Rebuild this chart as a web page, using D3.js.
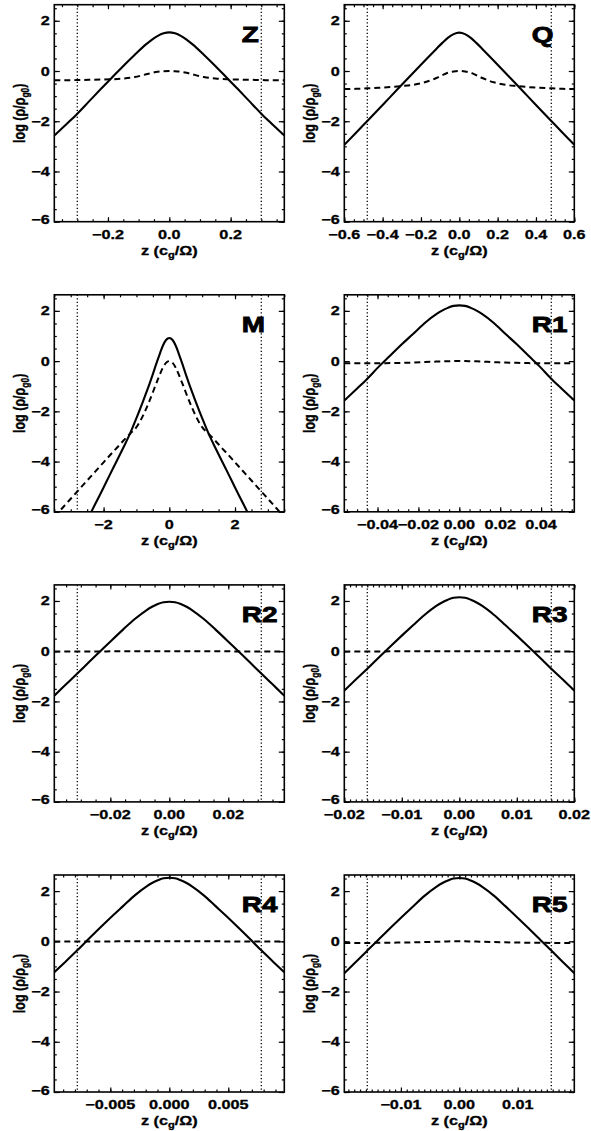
<!DOCTYPE html>
<html>
<head>
<meta charset="utf-8">
<script src="https://cdn.jsdelivr.net/npm/d3@7"></script>
<style>
  body { margin: 0; background: #fff; }
  svg { display: block; }
  text { font-family: "Liberation Sans", Arial, Helvetica, sans-serif; font-weight: bold; fill: #000; }
</style>
</head>
<body>
<svg id="fig" width="591" height="1131"></svg>
<script>
// ---- data -------------------------------------------------------------
const panelNames = ["Z", "Q", "M", "R1", "R2", "R3", "R4", "R5"];

// half-width of each z window and the position of the dotted markers (c_g/Omega)
const zHalf = [0.375, 0.6, 3.5, 0.05625, 0.039, 0.02, 0.00975, 0.0197];
const zMark = [0.30, 0.48, 2.8, 0.045, 0.0312, 0.016, 0.0078, 0.01576];

// labelled x ticks and minor tick spacing per panel
const xTicksZ  = [-0.2, 0, 0.2],               xLabelsZ  = ["\u22120.2", "0.0", "0.2"];
const xTicksQ  = [-0.6, -0.4, -0.2, 0, 0.2, 0.4, 0.6],
      xLabelsQ = ["\u22120.6", "\u22120.4", "\u22120.2", "0.0", "0.2", "0.4", "0.6"];
const xTicksM  = [-2, 0, 2],                   xLabelsM  = ["\u22122", "0", "2"];
const xTicksR1 = [-0.04, -0.02, 0, 0.02, 0.04],
      xLabelsR1 = ["\u22120.04", "\u22120.02", "0.00", "0.02", "0.04"];
const xTicksR2 = [-0.02, 0, 0.02],             xLabelsR2 = ["\u22120.02", "0.00", "0.02"];
const xTicksR3 = [-0.02, -0.01, 0, 0.01, 0.02],
      xLabelsR3 = ["\u22120.02", "\u22120.01", "0.00", "0.01", "0.02"];
const xTicksR4 = [-0.005, 0, 0.005],           xLabelsR4 = ["\u22120.005", "0.000", "0.005"];
const xTicksR5 = [-0.01, 0, 0.01],             xLabelsR5 = ["\u22120.01", "0.00", "0.01"];
const xMinor = [0.05, 0.05, 0.5, 0.005, 0.005, 0.001, 0.001, 0.001];

const yTicks = [-6, -4, -2, 0, 2];
const yLabels = ["\u22126", "\u22124", "\u22122", "0", "2"];
const yDomain = [-6, 2.64];

// sample positions as a fraction of the half-width (all panels except M)
const frac = [-1, -0.9, -0.8, -0.7, -0.6, -0.5, -0.4, -0.3, -0.2, -0.15, -0.1, -0.05, 0,
              0.05, 0.1, 0.15, 0.2, 0.3, 0.4, 0.5, 0.6, 0.7, 0.8, 0.9, 1];

// log density profiles: solid and dashed curves
const solidZ  = [-2.57, -2.14, -1.70, -1.22, -0.74, -0.27, 0.20, 0.65, 1.07, 1.25, 1.40, 1.50, 1.54,
                 1.50, 1.40, 1.25, 1.07, 0.65, 0.20, -0.27, -0.74, -1.22, -1.70, -2.14, -2.57];
const dashedZ = [-0.37, -0.37, -0.36, -0.35, -0.34, -0.33, -0.30, -0.24, -0.13, -0.07, -0.03, -0.01, 0,
                 -0.01, -0.03, -0.07, -0.13, -0.24, -0.30, -0.33, -0.34, -0.35, -0.36, -0.37, -0.37];

const solidQ  = [-2.94, -2.47, -1.99, -1.51, -1.03, -0.55, -0.07, 0.41, 0.88, 1.11, 1.32, 1.47, 1.53,
                 1.47, 1.32, 1.11, 0.88, 0.41, -0.07, -0.55, -1.03, -1.51, -1.99, -2.47, -2.94];
const dashedQ = [-0.72, -0.71, -0.69, -0.67, -0.64, -0.60, -0.55, -0.45, -0.28, -0.17, -0.07, -0.02, 0,
                 -0.02, -0.07, -0.17, -0.28, -0.45, -0.55, -0.60, -0.64, -0.67, -0.69, -0.71, -0.72];

// panel M is sampled directly in z
const zGridM = [-3.5, -3.4, -3.2, -3.0, -2.8, -2.6, -2.4, -2.2, -2.0, -1.8, -1.6, -1.4, -1.2, -1.0, -0.8,
                -0.6, -0.5, -0.4, -0.3, -0.2, -0.1, 0, 0.1, 0.2, 0.3, 0.4, 0.5, 0.6, 0.8, 1.0, 1.2,
                1.4, 1.6, 1.8, 2.0, 2.2, 2.4, 2.6, 2.8, 3.0, 3.2, 3.4, 3.5];
const solidM  = [-8.85, -8.6, -8.1, -7.6, -7.10, -6.60, -6.07, -5.55, -5.03, -4.50, -3.98, -3.45, -2.90,
                 -2.27, -1.60, -0.90, -0.52, -0.12, 0.25, 0.60, 0.84, 0.92, 0.84, 0.60, 0.25, -0.12,
                 -0.52, -0.90, -1.60, -2.27, -2.90, -3.45, -3.98, -4.50, -5.03, -5.55, -6.07, -6.60,
                 -7.10, -7.6, -8.1, -8.6, -8.85];
const dashedM = [-6.2, -6.06, -5.77, -5.48, -5.19, -4.90, -4.61, -4.32, -4.03, -3.74, -3.46, -3.17, -2.90,
                 -2.63, -2.17, -1.57, -1.24, -0.90, -0.57, -0.27, -0.07, 0, -0.07, -0.27, -0.57, -0.90,
                 -1.24, -1.57, -2.17, -2.63, -2.90, -3.17, -3.46, -3.74, -4.03, -4.32, -4.61, -4.90,
                 -5.19, -5.48, -5.77, -6.06, -6.2];

const solidR1  = [-1.57, -1.14, -0.70, -0.22, 0.22, 0.67, 1.09, 1.52, 1.87, 2.01, 2.12, 2.20, 2.22,
                  2.20, 2.12, 2.01, 1.87, 1.52, 1.09, 0.67, 0.22, -0.22, -0.70, -1.14, -1.57];
const dashedR1 = [-0.09, -0.09, -0.09, -0.085, -0.08, -0.07, -0.06, -0.04, -0.02, -0.01, -0.005, 0, 0,
                  0, -0.005, -0.01, -0.02, -0.04, -0.06, -0.07, -0.08, -0.085, -0.09, -0.09, -0.09];

const solidR2  = [-1.77, -1.33, -0.89, -0.44, 0.00, 0.44, 0.87, 1.28, 1.63, 1.77, 1.88, 1.95, 1.97,
                  1.95, 1.88, 1.77, 1.63, 1.28, 0.87, 0.44, 0.00, -0.44, -0.89, -1.33, -1.77];
const dashedR2 = [-0.01, -0.01, -0.01, -0.01, -0.01, -0.005, -0.005, 0, 0, 0, 0, 0, 0,
                  0, 0, 0, 0, 0, -0.005, -0.005, -0.01, -0.01, -0.01, -0.01, -0.01];

const solidR3  = [-1.57, -1.13, -0.70, -0.25, 0.19, 0.62, 1.04, 1.45, 1.80, 1.94, 2.05, 2.13, 2.15,
                  2.13, 2.05, 1.94, 1.80, 1.45, 1.04, 0.62, 0.19, -0.25, -0.70, -1.13, -1.57];
const dashedR3 = [-0.01, -0.01, -0.01, -0.01, -0.005, -0.005, 0, 0, 0, 0, 0, 0, 0,
                  0, 0, 0, 0, 0, 0, -0.005, -0.005, -0.01, -0.01, -0.01, -0.01];

const solidR4  = [-1.23, -0.80, -0.36, 0.10, 0.55, 0.99, 1.41, 1.83, 2.18, 2.32, 2.43, 2.51, 2.53,
                  2.51, 2.43, 2.32, 2.18, 1.83, 1.41, 0.99, 0.55, 0.10, -0.36, -0.80, -1.23];
const dashedR4 = [-0.01, -0.01, -0.01, -0.01, -0.005, -0.005, 0, 0, 0, 0, 0, 0, 0,
                  0, 0, 0, 0, 0, 0, -0.005, -0.005, -0.01, -0.01, -0.01, -0.01];

const solidR5  = [-1.27, -0.82, -0.37, 0.08, 0.53, 0.97, 1.40, 1.82, 2.17, 2.31, 2.42, 2.50, 2.52,
                  2.50, 2.42, 2.31, 2.17, 1.82, 1.40, 0.97, 0.53, 0.08, -0.37, -0.82, -1.27];
const dashedR5 = [-0.07, -0.07, -0.065, -0.06, -0.055, -0.05, -0.04, -0.03, -0.02, -0.01, -0.005, 0, 0,
                  0, -0.005, -0.01, -0.02, -0.03, -0.04, -0.05, -0.055, -0.06, -0.065, -0.07, -0.07];

// ---- assembly -----------------------------------------------------------
const solidSeries  = [solidZ, solidQ, solidM, solidR1, solidR2, solidR3, solidR4, solidR5];
const dashedSeries = [dashedZ, dashedQ, dashedM, dashedR1, dashedR2, dashedR3, dashedR4, dashedR5];
const xTickSets  = [xTicksZ, xTicksQ, xTicksM, xTicksR1, xTicksR2, xTicksR3, xTicksR4, xTicksR5];
const xLabelSets = [xLabelsZ, xLabelsQ, xLabelsM, xLabelsR1, xLabelsR2, xLabelsR3, xLabelsR4, xLabelsR5];

const colLeft = [54.3, 344.3];
const plotW = 230, plotH = 217;
const rowTop0 = 4.7, rowStep = 290.1;
const stretch = 1.3;       // lettering is drawn wide
const tickFont = 12.5;

const svg = d3.select("#fig");

function wideText(parent, x, y, anchor, size, weight) {
  return parent.append("text")
    .attr("transform", `translate(${x},${y}) scale(${stretch},1)`)
    .attr("text-anchor", anchor)
    .attr("font-size", size)
    .attr("stroke", "#000")
    .attr("stroke-width", weight);
}

function minorValues(half, step) {
  const n = Math.floor(half / step + 1e-6);
  return d3.range(-n, n + 1).map(k => k * step);
}

function tickAxis(g, axis, scale, values, size) {
  g.call(axis(scale).tickValues(values).tickSize(-size).tickFormat(""))
   .call(s => s.select(".domain").remove())
   .selectAll("line").attr("stroke", "#000").attr("stroke-width", 1.2);
}

panelNames.forEach((name, i) => {
  const col = i % 2, row = Math.floor(i / 2);
  const g = svg.append("g")
    .attr("transform", `translate(${colLeft[col]},${rowTop0 + row * rowStep})`);

  const x = d3.scaleLinear().domain([-zHalf[i], zHalf[i]]).range([0, plotW]);
  const y = d3.scaleLinear().domain(yDomain).range([plotH, 0]);

  const zs = name === "M" ? zGridM : frac.map(f => f * zHalf[i]);

  const clipId = "clip-" + name;
  g.append("clipPath").attr("id", clipId)
    .append("rect").attr("width", plotW).attr("height", plotH);
  const plot = g.append("g").attr("clip-path", `url(#${clipId})`);

  // dotted markers
  plot.selectAll("line.mark").data([-zMark[i], zMark[i]]).join("line")
    .attr("class", "mark")
    .attr("x1", d => x(d)).attr("x2", d => x(d))
    .attr("y1", 0).attr("y2", plotH)
    .attr("stroke", "#000").attr("stroke-width", 1.3)
    .attr("stroke-dasharray", "1.3,2.2");

  const line = d3.line().x(d => x(d[0])).y(d => y(d[1])).curve(d3.curveMonotoneX);

  plot.append("path").datum(d3.zip(zs, dashedSeries[i]))
    .attr("d", line).attr("fill", "none")
    .attr("stroke", "#000").attr("stroke-width", 2)
    .attr("stroke-dasharray", "6,4");

  plot.append("path").datum(d3.zip(zs, solidSeries[i]))
    .attr("d", line).attr("fill", "none")
    .attr("stroke", "#000").attr("stroke-width", 2.1);

  // ticks on all four sides, pointing inwards
  const xMin = minorValues(zHalf[i], xMinor[i]);
  const yMin = d3.range(-12, 6).map(k => k * 0.5);
  tickAxis(g.append("g").attr("transform", `translate(0,${plotH})`), d3.axisBottom, x, xMin, 2.5);
  tickAxis(g.append("g").attr("transform", `translate(0,${plotH})`), d3.axisBottom, x, xTickSets[i], 4.5);
  tickAxis(g.append("g"), d3.axisTop, x, xMin, 2.5);
  tickAxis(g.append("g"), d3.axisTop, x, xTickSets[i], 4.5);
  tickAxis(g.append("g"), d3.axisLeft, y, yMin, 2.5);
  tickAxis(g.append("g"), d3.axisLeft, y, yTicks, 5.5);
  tickAxis(g.append("g").attr("transform", `translate(${plotW},0)`), d3.axisRight, y, yMin, 2.5);
  tickAxis(g.append("g").attr("transform", `translate(${plotW},0)`), d3.axisRight, y, yTicks, 5.5);

  // frame
  g.append("rect").attr("width", plotW).attr("height", plotH)
    .attr("fill", "none").attr("stroke", "#000").attr("stroke-width", 1.6);

  // tick labels
  xTickSets[i].forEach((v, k) => {
    wideText(g, x(v), plotH + 17, "middle", tickFont, 0.3).text(xLabelSets[i][k]);
  });
  yTicks.forEach((v, k) => {
    wideText(g, -4.5, y(v) + 4.5 - (v === -6 ? 2 : 0), "end", tickFont, 0.3).text(yLabels[k]);
  });

  // axis titles
  const xt = wideText(g, plotW / 2, plotH + 33, "middle", tickFont, 0.3);
  xt.append("tspan").text("z (c");
  xt.append("tspan").attr("font-size", 8.5).attr("dy", 3).text("g");
  xt.append("tspan").attr("dy", -3).text("/\u03A9)");

  const yt = g.append("text")
    .attr("transform", `translate(-29.3,${plotH / 2}) scale(${stretch},1) rotate(-90)`)
    .attr("text-anchor", "middle").attr("font-size", tickFont)
    .attr("stroke", "#000").attr("stroke-width", 0.3);
  yt.append("tspan").text("log (\u03C1/\u03C1");
  yt.append("tspan").attr("font-size", 8.5).attr("dy", 3).text("g0");
  yt.append("tspan").attr("dy", -3).text(")");

  // panel tag
  wideText(g, 187.5, 37, "start", 21.5, 0.8).text(name);
});
</script>
</body>
</html>
